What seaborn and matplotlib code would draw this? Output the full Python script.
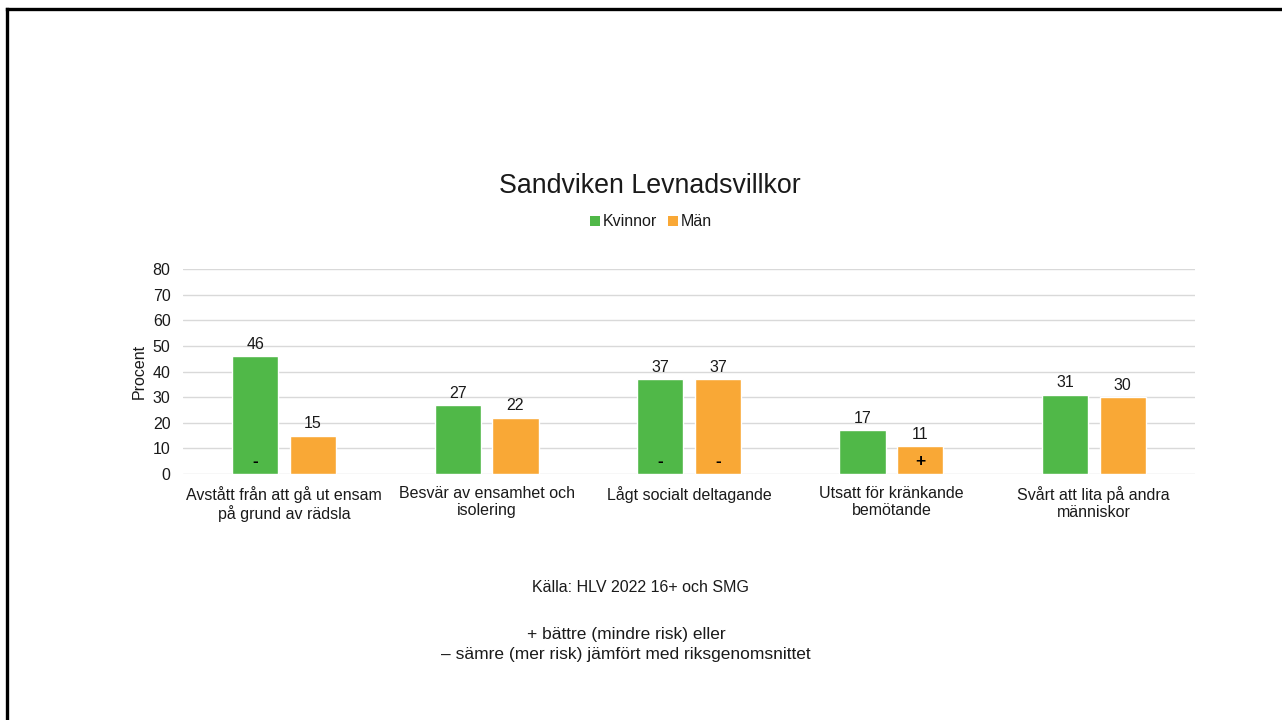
import matplotlib
matplotlib.use("Agg")
import matplotlib.pyplot as plt
from matplotlib.lines import Line2D
from matplotlib.patches import Patch
import seaborn as sns
import pandas as pd

categories = [
    "Avstått från att gå ut ensam\npå grund av rädsla",
    "Besvär av ensamhet och\nisolering",
    "Lågt socialt deltagande",
    "Utsatt för kränkande\nbemötande",
    "Svårt att lita på andra\nmänniskor",
]
kvinnor = [46, 27, 37, 17, 31]
man = [15, 22, 37, 11, 30]
sig_kvinnor = ["-", "", "-", "", ""]
sig_man = ["", "", "-", "+", ""]
series = ["Kvinnor", "Män"]
colors = ["#50B848", "#F9A836"]
yticks = [0, 10, 20, 30, 40, 50, 60, 70, 80]

sns.set_theme(style="white")
plt.rcParams["font.family"] = ["Liberation Sans", "DejaVu Sans"]
TXT = "#1a1a1a"
FS = 11.5

df = pd.DataFrame({
    "Kategori": categories * 2,
    "Värde": kvinnor + man,
    "Kön": [series[0]] * len(categories) + [series[1]] * len(categories),
})

fig = plt.figure(figsize=(12.82, 7.2), dpi=100)
ax = fig.add_axes([183 / 1282, 1 - 474 / 720, (1195 - 183) / 1282, (474 - 269) / 720])

sns.barplot(data=df, x="Kategori", y="Värde", hue="Kön", palette=colors,
            width=0.57, gap=0.2, ax=ax, legend=False, saturation=1)

ax.set_ylim(0, 80)
ax.set_xlim(-0.5, len(categories) - 0.5)
ax.set_yticks(yticks)
ax.yaxis.grid(True, color="#d9d9d9", linewidth=1)
ax.set_axisbelow(True)
for s in ax.spines.values():
    s.set_visible(False)
ax.tick_params(axis="x", length=0, labelsize=FS, colors=TXT, pad=9)
ax.tick_params(axis="y", length=0, labelsize=FS, colors=TXT, pad=9)
for lbl in ax.get_xticklabels():
    lbl.set_linespacing(1.1)
ax.set_xlabel("")
ax.set_ylabel("Procent", fontsize=FS, color=TXT, labelpad=4)

for cont, sigs in zip(ax.containers, [sig_kvinnor, sig_man]):
    ax.bar_label(cont, fmt="%d", padding=3, fontsize=FS, color=TXT)
    for bar, s in zip(cont, sigs):
        if s:
            ax.text(bar.get_x() + bar.get_width() / 2, 5, s, ha="center", va="center",
                    fontsize=12.5, fontweight="bold", color="black")

fig.text(649.5 / 1282, 1 - 186 / 720, "Sandviken Levnadsvillkor", ha="center", va="center",
         fontsize=19.3, color=TXT)

handles = [Patch(facecolor=c, edgecolor="none") for c in colors]
fig.legend(handles, series, loc="center", bbox_to_anchor=(651 / 1282, 1 - 222 / 720),
           ncol=2, frameon=False, fontsize=FS, handlelength=0.6, handleheight=0.6,
           handletextpad=0.2, columnspacing=0.7, labelcolor=TXT)

fig.text(641 / 1282, 1 - 587 / 720, "Källa: HLV 2022 16+ och SMG", ha="center", va="center",
         fontsize=FS, color=TXT)
fig.text(626 / 1282, 1 - 634 / 720, "+ bättre (mindre risk) eller", ha="center", va="center",
         fontsize=12.5, color=TXT)
fig.text(626 / 1282, 1 - 655 / 720, "– sämre (mer risk) jämfört med riksgenomsnittet",
         ha="center", va="center", fontsize=12.5, color=TXT)

fig.add_artist(Line2D([7 / 1282, 7 / 1282], [0, 1 - 9 / 720], transform=fig.transFigure,
                      color="black", linewidth=2.4, solid_capstyle="projecting"))
fig.add_artist(Line2D([7 / 1282, 1], [1 - 9 / 720, 1 - 9 / 720], transform=fig.transFigure,
                      color="black", linewidth=2.4, solid_capstyle="projecting"))

fig.savefig("out.png", dpi=100, facecolor="white")
